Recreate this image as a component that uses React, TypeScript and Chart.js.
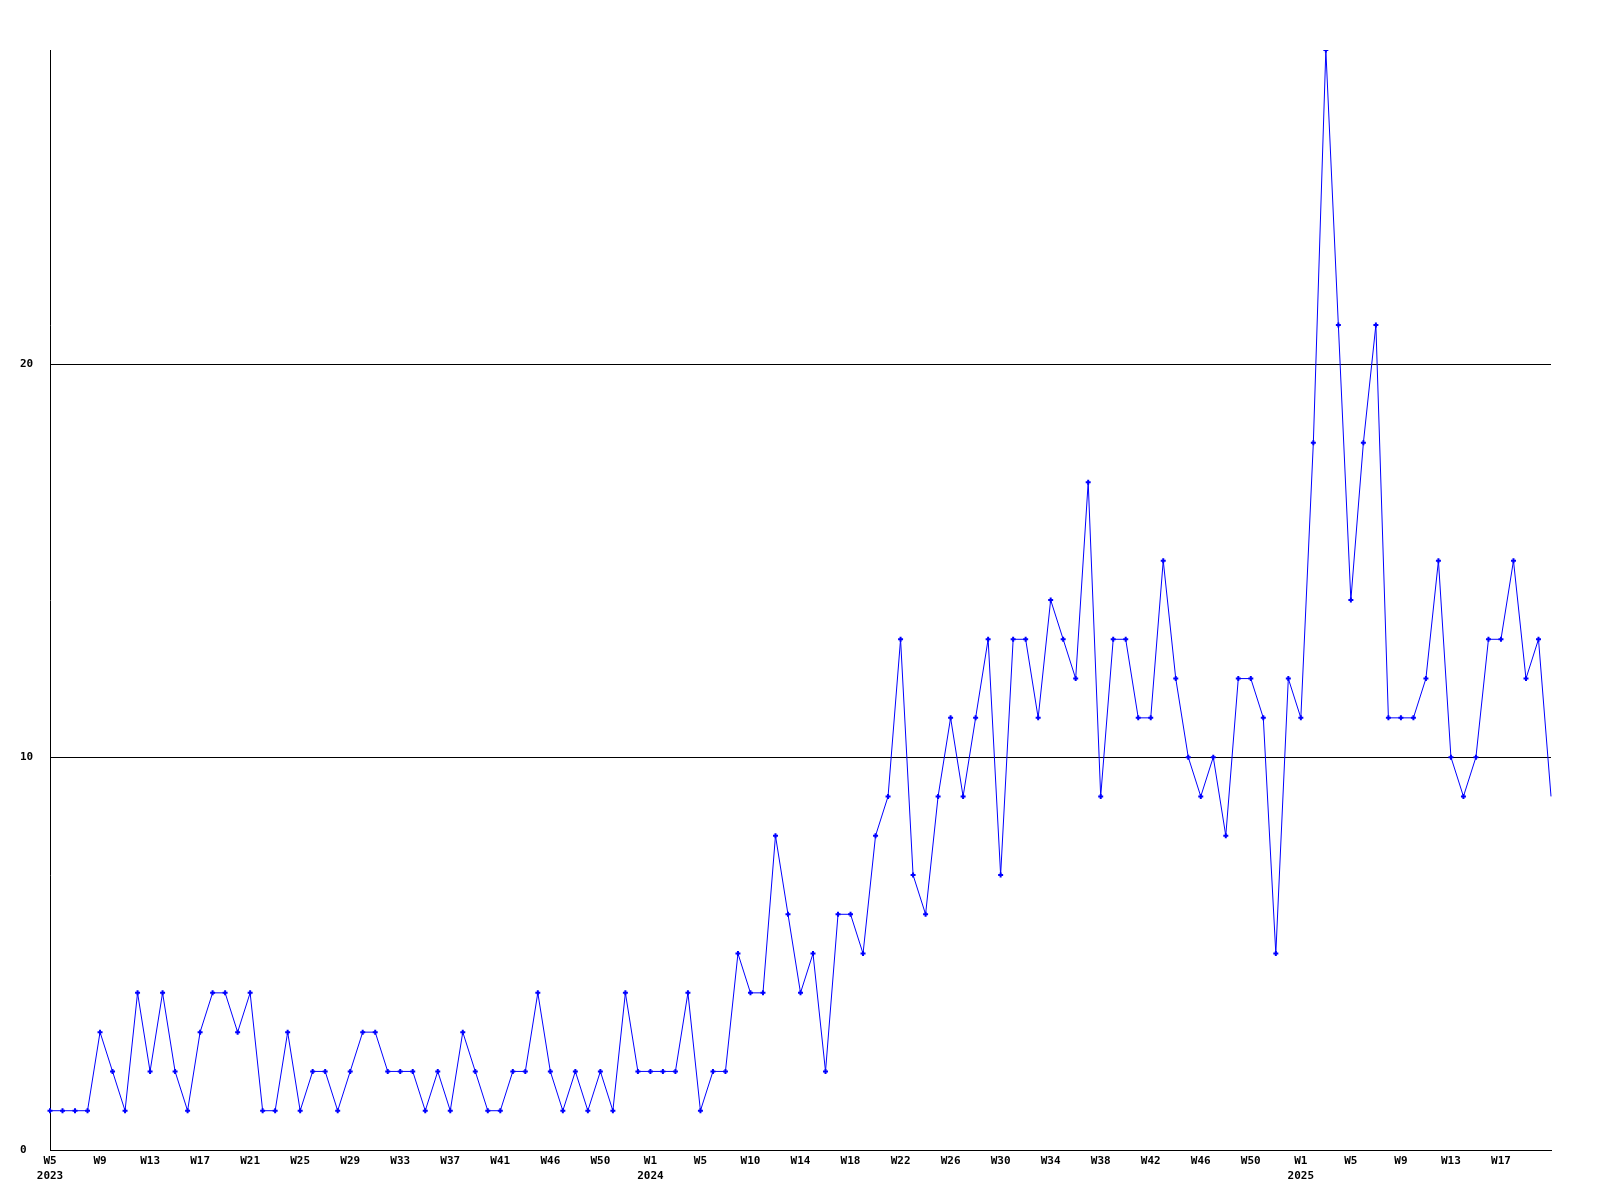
import React, { useEffect, useRef } from 'react';
import { Chart, registerables } from 'chart.js';

Chart.register(...registerables);

// Weekly series: 2023 W5 .. 2025 W21
const yearSpans = [
  { year: 2023, firstWeek: 5, lastWeek: 52 },
  { year: 2024, firstWeek: 1, lastWeek: 52 },
  { year: 2025, firstWeek: 1, lastWeek: 21 },
];

const values2023 = [
  1, 1, 1, 1, 3, 2, 1, 4, 2, 4, 2, 1, 3, 4, 4, 3, 4, 1, 1, 3, 1, 2, 2, 1, 2, 3, 3, 2, 2, 2,
  1, 2, 1, 3, 2, 1, 1, 2, 2, 4, 2, 1, 2, 1, 2, 1, 4, 2,
];
const values2024 = [
  2, 2, 2, 4, 1, 2, 2, 5, 4, 4, 8, 6, 4, 5, 2, 6, 6, 5, 8, 9, 13, 7,
  6, 9, 11, 9, 11, 13, 7, 13, 13, 11, 14, 13, 12, 17, 9, 13, 13, 11, 11, 15,
  12, 10, 9, 10, 8, 12, 12, 11, 5, 12,
];
const values2025 = [11, 18, 28, 21, 14, 18, 21, 11, 11, 11, 12, 15, 10, 9, 10, 13, 13, 15, 12, 13, 9];

// Displayed x tick texts (one every fourth week)
const tickLabels = [
  'W5', 'W9', 'W13', 'W17', 'W21', 'W25', 'W29', 'W33', 'W37', 'W41', 'W46', 'W50',
  'W1', 'W5', 'W10', 'W14', 'W18', 'W22', 'W26', 'W30', 'W34', 'W38', 'W42', 'W46', 'W50',
  'W1', 'W5', 'W9', 'W13', 'W17',
];
const tickEvery = 4;

const yMin = 0;
const yMax = 28;
const yStep = 10;

const categories: string[] = [];
const yearStartIndex = new Map<number, string>();
yearSpans.forEach((s) => {
  yearStartIndex.set(categories.length, String(s.year));
  for (let w = s.firstWeek; w <= s.lastWeek; w++) categories.push(`${s.year}-W${w}`);
});
const values = [...values2023, ...values2024, ...values2025];

const FONT = { family: "'DejaVu Sans Mono', 'Liberation Mono', monospace", size: 11, weight: 'bold' as const, lineHeight: 1.36 };

export default function App() {
  const ref = useRef<HTMLCanvasElement | null>(null);

  useEffect(() => {
    if (!ref.current) return;
    const lastIndex = values.length - 1;
    const chart = new Chart(ref.current, {
      type: 'line',
      data: {
        labels: categories,
        datasets: [
          {
            data: values,
            borderColor: '#0000ff',
            backgroundColor: '#0000ff',
            borderWidth: 1,
            tension: 0,
            pointStyle: 'cross',
            pointRadius: (ctx: any) => (ctx.dataIndex === lastIndex ? 0 : 2.5),
            pointBorderWidth: 2,
            pointBorderColor: '#0000ff',
            pointHoverRadius: 2.5,
            fill: false,
          },
        ],
      },
      options: {
        animation: false,
        responsive: false,
        devicePixelRatio: 1,
        events: [],
        layout: { padding: { left: 20, top: 50, right: 49, bottom: 0 } },
        plugins: { legend: { display: false }, tooltip: { enabled: false }, title: { display: false } },
        scales: {
          x: {
            type: 'category',
            offset: false,
            grid: { display: false, drawTicks: false },
            border: { display: true, color: '#000', width: 1 },
            ticks: {
              autoSkip: false,
              maxRotation: 0,
              minRotation: 0,
              padding: 4,
              color: '#000',
              font: FONT,
              callback: (_v: any, index: number) => {
                if (index % tickEvery !== 0) return '';
                const t = tickLabels[index / tickEvery];
                if (t === undefined) return '';
                const yr = yearStartIndex.get(index);
                return yr ? [t, yr] : t;
              },
            },
            afterFit: (scale: any) => {
              scale.height = 50;
            },
          },
          y: {
            min: yMin,
            max: yMax,
            grid: { display: true, color: '#000', lineWidth: 1, drawTicks: false },
            border: { display: true, color: '#000', width: 1 },
            ticks: {
              stepSize: yStep,
              includeBounds: false,
              crossAlign: 'far',
              padding: 0,
              color: '#000',
              font: FONT,
            },
            afterFit: (scale: any) => {
              scale.width = 30;
            },
          },
        },
      },
    });
    return () => chart.destroy();
  }, []);

  return (
    <canvas
      ref={ref}
      width={1600}
      height={1200}
      style={{ position: 'absolute', left: 0, top: 0, width: 1600, height: 1200, background: '#fff' }}
    />
  );
}
